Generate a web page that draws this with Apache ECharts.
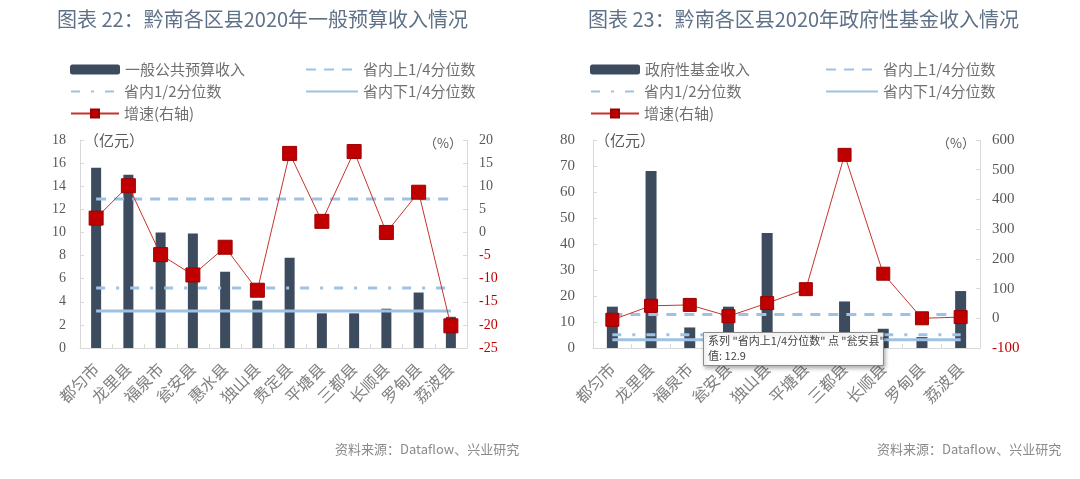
<!DOCTYPE html>
<html><head><meta charset="utf-8">
<script src="https://cdn.jsdelivr.net/npm/echarts@6/dist/echarts.min.js"></script>
<style>html,body{margin:0;padding:0;background:#fff}#c{width:1080px;height:479px}</style>
</head><body><div id="c"></div>
<script>
// ---- Left chart data ----
const catsL = ['都匀市','龙里县','福泉市','瓮安县','惠水县','独山县','贵定县','平塘县','三都县','长顺县','罗甸县','荔波县'];
const incomeL = [15.6, 15.0, 10.0, 9.9, 6.6, 4.1, 7.8, 3.0, 3.0, 3.4, 4.8, 2.7];
const upperL = [12.9, 12.9, 12.9, 12.9, 12.9, 12.9, 12.9, 12.9, 12.9, 12.9, 12.9, 12.9];
const midL = [5.2, 5.2, 5.2, 5.2, 5.2, 5.2, 5.2, 5.2, 5.2, 5.2, 5.2, 5.2];
const lowerL = [3.2, 3.2, 3.2, 3.2, 3.2, 3.2, 3.2, 3.2, 3.2, 3.2, 3.2, 3.2];
const growthL = [3.1, 10.1, -4.8, -9.2, -3.2, -12.5, 17.1, 2.4, 17.5, 0.0, 8.7, -20.2];
// ---- Right chart data ----
const catsR = ['都匀市','龙里县','福泉市','瓮安县','独山县','平塘县','三都县','长顺县','罗甸县','荔波县'];
const fundR = [15.9, 68.1, 7.9, 15.9, 44.2, 3.0, 17.9, 7.4, 4.2, 21.9];
const upperR = [12.9, 12.9, 12.9, 12.9, 12.9, 12.9, 12.9, 12.9, 12.9, 12.9];
const midR = [5.1, 5.1, 5.1, 5.1, 5.1, 5.1, 5.1, 5.1, 5.1, 5.1];
const lowerR = [3.2, 3.2, 3.2, 3.2, 3.2, 3.2, 3.2, 3.2, 3.2, 3.2];
const growthR = [-5, 42, 45, 7, 51, 98, 550, 150, 0, 4];

const NAVY = '#3d4b5f', LBLUE = '#9fc2e4', RED = '#c00000', GRAY = '#595959', AX = '#d9d9d9';
const CJK = '"Noto Sans CJK SC", "Noto Sans", sans-serif';
const SERIF = '"Liberation Serif", "DejaVu Serif", serif';

function xAx(gi, cats) {
  return {
    type: 'category', gridIndex: gi, data: cats,
    axisLine: {lineStyle: {color: AX}},
    axisTick: {show: true, inside: true, length: 4, lineStyle: {color: AX}},
    axisLabel: {rotate: 45, fontFamily: CJK, fontSize: 16, color: '#808080', margin: 18, interval: 0}
  };
}
function yLeft(gi, max, iv, fs, m) {
  return {
    type: 'value', gridIndex: gi, min: 0, max: max, interval: iv, position: 'left',
    splitLine: {show: false},
    axisLine: {show: true, lineStyle: {color: AX}},
    axisTick: {show: true, inside: true, length: 4, lineStyle: {color: AX}},
    axisLabel: {fontFamily: SERIF, fontSize: fs, color: GRAY, margin: m}
  };
}
function yRight(gi, min, max, iv, fs) {
  return {
    type: 'value', gridIndex: gi, min: min, max: max, interval: iv, position: 'right',
    splitLine: {show: false},
    axisLine: {show: true, lineStyle: {color: AX}},
    axisTick: {show: true, inside: true, length: 4, lineStyle: {color: AX}},
    axisLabel: {
      margin: 12,
      formatter: v => v < 0 ? '{n|' + v + '}' : '{p|' + v + '}',
      rich: {
        n: {fontFamily: SERIF, fontSize: fs, color: RED},
        p: {fontFamily: SERIF, fontSize: fs, color: GRAY}
      }
    }
  };
}
function seriesSet(xi, yi, yi2, barName, bars, up, mid, low, gr, bw, sym) {
  return [
    {name: barName, type: 'bar', xAxisIndex: xi, yAxisIndex: yi, data: bars, barWidth: bw,
      itemStyle: {color: NAVY}, z: 2},
    {name: '省内上1/4分位数', type: 'line', xAxisIndex: xi, yAxisIndex: yi, data: up, symbol: 'none',
      itemStyle: {color: LBLUE}, lineStyle: {color: LBLUE, width: 3, type: [10, 8]}, z: 3},
    {name: '省内1/2分位数', type: 'line', xAxisIndex: xi, yAxisIndex: yi, data: mid, symbol: 'none',
      itemStyle: {color: LBLUE}, lineStyle: {color: LBLUE, width: 3, type: [9, 11, 3, 11]}, z: 3},
    {name: '省内下1/4分位数', type: 'line', xAxisIndex: xi, yAxisIndex: yi, data: low, symbol: 'none',
      itemStyle: {color: LBLUE}, lineStyle: {color: LBLUE, width: 3}, z: 3},
    {name: '增速(右轴)', type: 'line', xAxisIndex: xi, yAxisIndex: yi2, data: gr, symbol: 'rect', symbolSize: sym,
      lineStyle: {color: '#c8322e', width: 1}, itemStyle: {color: RED, borderColor: '#9c0000', borderWidth: 1}, z: 5}
  ];
}
function lg(name, left, top, w, noSym) {
  const d = noSym ? {name: name, itemStyle: {opacity: 0}} : {name: name};
  return {data: [d], left: left, top: top, padding: 0, itemWidth: w, itemHeight: 10, itemGap: 6, selectedMode: false,
    textStyle: {fontFamily: CJK, fontSize: 15, color: '#707070'}};
}

const chart = echarts.init(document.getElementById('c'), null, {renderer: 'canvas'});
chart.setOption({
  animation: false,
  title: [
    {text: '图表 22：黔南各区县2020年一般预算收入情况', left: 57, top: 9, padding: 0,
      textStyle: {fontFamily: CJK, fontSize: 20, fontWeight: 'normal', color: '#5f7186'}},
    {text: '图表 23：黔南各区县2020年政府性基金收入情况', left: 588, top: 9, padding: 0,
      textStyle: {fontFamily: CJK, fontSize: 20, fontWeight: 'normal', color: '#5f7186'}}
  ],
  legend: [
    lg('一般公共预算收入', 70, 62, 50),
    lg('省内1/2分位数', 70, 84, 48, true),
    lg('增速(右轴)', 70, 106, 48),
    lg('省内上1/4分位数', 305, 62, 52, true),
    lg('省内下1/4分位数', 305, 84, 52, true),
    lg('政府性基金收入', 590, 62, 50),
    lg('省内1/2分位数', 590, 84, 48, true),
    lg('增速(右轴)', 590, 106, 48),
    lg('省内上1/4分位数', 825, 62, 52, true),
    lg('省内下1/4分位数', 825, 84, 52, true)
  ],
  grid: [
    {left: 80, right: 613, top: 140, height: 208},
    {left: 593, right: 100, top: 140, height: 208}
  ],
  xAxis: [xAx(0, catsL), xAx(1, catsR)],
  yAxis: [yLeft(0, 18, 2, 14, 14), yRight(0, -25, 20, 5, 14), yLeft(1, 80, 10, 15, 18), yRight(1, -100, 600, 100, 15)],
  series: [].concat(
    seriesSet(0, 0, 1, '一般公共预算收入', incomeL, upperL, midL, lowerL, growthL, 10, 14),
    seriesSet(1, 2, 3, '政府性基金收入', fundR, upperR, midR, lowerR, growthR, 11, 13)
  ),
  graphic: [
    {type: 'text', left: 84, top: 133, style: {text: '（亿元）', font: '15px ' + CJK, fill: GRAY}},
    {type: 'text', left: 424, top: 137, style: {text: '（%）', font: '13px ' + CJK, fill: GRAY}},
    {type: 'text', left: 595, top: 133, style: {text: '（亿元）', font: '15px ' + CJK, fill: GRAY}},
    {type: 'text', left: 937, top: 137, style: {text: '（%）', font: '13px ' + CJK, fill: GRAY}},
    {type: 'text', left: 335, top: 443, style: {text: '资料来源：Dataflow、兴业研究', font: '13px ' + CJK, fill: '#8a8a8a'}},
    {type: 'text', left: 877, top: 443, style: {text: '资料来源：Dataflow、兴业研究', font: '13px ' + CJK, fill: '#8a8a8a'}},
    {type: 'rect', left: 703, top: 332, z: 100, shape: {width: 180, height: 33},
      style: {fill: '#ffffff', stroke: '#8c8c8c', lineWidth: 1, shadowBlur: 4, shadowColor: 'rgba(0,0,0,0.3)', shadowOffsetX: 1, shadowOffsetY: 2}},
    {type: 'text', left: 708, top: 335, z: 101, style: {text: '系列 "省内上1/4分位数" 点 "瓮安县"', font: '11px ' + CJK, fill: '#404040'}},
    {type: 'text', left: 708, top: 350, z: 101, style: {text: '值: 12.9', font: '11px ' + CJK, fill: '#404040'}}
  ]
});
</script>
</body></html>
